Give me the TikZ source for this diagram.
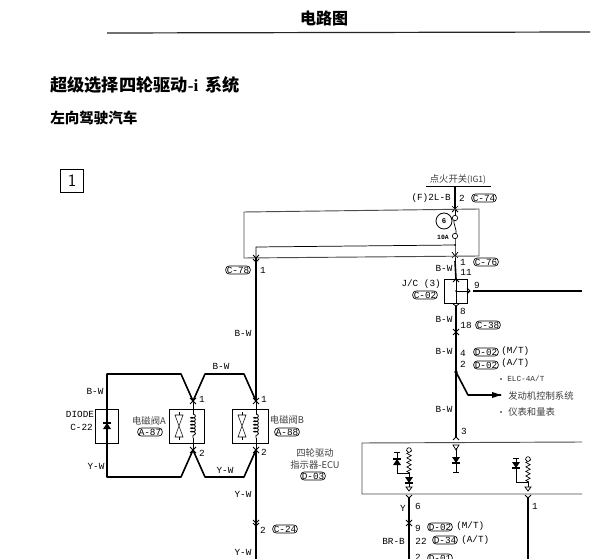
\documentclass[tikz,border=0pt]{standalone}
\usepackage{fontspec}
\setmainfont{Liberation Mono}
\newfontfamily\cjk{Noto Sans CJK SC}
\usetikzlibrary{calc}
\usetikzlibrary{decorations.pathmorphing}
\def\chev#1{\draw[thin] ($(#1)+(-3,3)$) -- (#1) -- ($(#1)+(3,3)$);}
\def\chevup#1{\draw[thin] ($(#1)+(-3,-3)$) -- (#1) -- ($(#1)+(3,-3)$);}
\def\diode#1{\fill ($(#1)+(-4,-3)$) -- ($(#1)+(4,-3)$) -- ($(#1)+(0,3)$) -- cycle;
  \draw[thick] ($(#1)+(-4,3)$) -- ($(#1)+(4,3)$);}
\def\diodeup#1{\fill ($(#1)+(-4,3)$) -- ($(#1)+(4,3)$) -- ($(#1)+(0,-3)$) -- cycle;
  \draw[thick] ($(#1)+(-4,-3)$) -- ($(#1)+(4,-3)$);}
\def\hourglass#1{\draw[thin] ($(#1)+(-4,-11)$) -- ($(#1)+(4,-11)$) -- ($(#1)+(-4,11)$) -- ($(#1)+(4,11)$) -- cycle;
  \draw[thin] ($(#1)+(0,-14)$) -- ($(#1)+(0,-11)$) ($(#1)+(0,11)$) -- ($(#1)+(0,14)$);}
\begin{document}
\begin{tikzpicture}[x=0.75pt,y=-0.75pt,
      lab/.style={inner sep=0pt,font=\fontsize{7}{8}\selectfont},
      cjklab/.style={inner sep=0pt,text=black!75,font=\cjk\fontsize{7}{8}\selectfont},
      pill/.style={draw,rounded corners=2.5pt,inner xsep=0.8pt,inner ysep=0.6pt,line width=0.5pt,font=\fontsize{7}{8}\selectfont},
      wire/.style={line width=1.2pt},
      thinwire/.style={line width=0.55pt},
      frame/.style={line width=0.7pt,black!70},
      coilwire/.style={line width=0.6pt,decorate,decoration={coil,aspect=0.5,segment length=2.6pt,amplitude=1.8pt}},
      reswire/.style={line width=0.5pt,decorate,decoration={zigzag,segment length=3.4pt,amplitude=1.6pt}},
      junc/.style={circle,draw,fill=white,inner sep=0pt,minimum size=4pt,line width=0.5pt},
      ]
      \clip (0,0) rectangle (603,559);
      \fill[white] (0,0) rectangle (603,559);

      % heading
      \node[inner sep=0pt,font=\cjk\bfseries\fontsize{12}{14}\selectfont] (Title) at (324,18) {电路图};
      \coordinate (RuleL) at (107,33);
      \coordinate (RuleR) at (590,32);
      \draw[line width=0.9pt,black!85] (RuleL) -- (RuleR);
      \node[inner sep=0pt,anchor=west,font=\cjk\bfseries\fontsize{12.9}{14}\selectfont] (Head) at (50,85) {超级选择四轮驱动{\fontspec{Liberation Serif}-i}\, 系统};
      \node[inner sep=0pt,anchor=west,font=\cjk\bfseries\fontsize{10.9}{12}\selectfont] (Sub) at (50,118) {左向驾驶汽车};
      \node[draw,line width=0.7pt,minimum width=17.5pt,minimum height=17.5pt,inner sep=0pt,font=\sffamily\fontsize{13}{14}\selectfont] (One) at (72,181) {1};

      % ignition feed
      \node[cjklab] (IG) at (458,179) {点火开关{\fontsize{6.4}{7}\selectfont(IG1)}};
      \coordinate (IGL) at (426,186);
      \coordinate (IGR) at (491,186);
      \draw[line width=0.7pt] (IGL) -- (IGR);
      \coordinate (IGM) at (455,186);
      \coordinate (FA) at (455,209);
      \coordinate (FT) at (455,218);
      \coordinate (FB) at (455,236);
      \coordinate (FC) at (455,255);
      \coordinate (FD) at (455,261);
      \draw[wire] (IGM) -- (FA);
      \draw[thinwire] (FA) -- (FT);
      \draw[thinwire] (FB) -- (FC) -- (FD);
      \draw[thinwire] (FT) .. controls (451,224) and (459,229) .. (FB);
      \chevup{FA}
      \draw[thinwire] ($(FA)+(-3,3)$) -- (FA) -- ($(FA)+(3,3)$);
      \chev{FC}
      \draw[thinwire] ($(FC)+(-3,-3)$) -- ($(FC)+(0,1)$) -- ($(FC)+(3,-3)$);
      \node[junc] (FTop) at (FT) {};
      \node[junc] (FBot) at (FB) {};
      \node[draw,circle,line width=0.6pt,minimum size=12pt,inner sep=0pt,font=\fontsize{5.5}{6}\bfseries\selectfont] (Fuse) at (444,221) {6};
      \node[lab,font=\fontsize{4.8}{5}\bfseries\selectfont] (Amp) at (443,237) {10A};
      \node[lab,anchor=east] (L2LB) at (451,198) {(F)2L-B};
      \node[lab] (P2) at (462,198) {2};
      \node[pill] (C74) at (484,198) {C-74};

      % outer loop
      \coordinate (LoopA) at (244,212);
      \coordinate (LoopB) at (479,209);
      \coordinate (LoopC) at (479,256);
      \coordinate (LoopD) at (244,258);
      \draw[frame] (LoopA) -- (LoopB) -- (LoopC) -- (LoopD) -- cycle;
      \coordinate (InnerR) at (455,245);
      \coordinate (InnerL) at (256,247);
      \coordinate (CA) at (256,258);
      \draw[thinwire] (InnerR) -- (InnerL) -- (CA);
      \fill (InnerR) circle (1);

      % left wire
      \coordinate (CB) at (256,262);
      \coordinate (WireA) at (256,401);
      \coordinate (WireB) at (256,450);
      \coordinate (WireC) at (256,559);
      \coordinate (Cross) at (256,523);
      \draw[thinwire] ($(CA)+(-3,-3)$) -- (CA) -- ($(CA)+(3,-3)$);
      \draw[thinwire] ($(CB)+(-3,-3)$) -- (CB) -- ($(CB)+(3,-3)$);
      \draw[wire] (CA) -- (WireA);
      \draw[wire] (WireB) -- (WireC);
      \draw[thinwire] ($(Cross)+(-3,-3)$) -- (Cross) -- ($(Cross)+(3,-3)$);
      \draw[thinwire] ($(Cross)+(-3,0)$) -- ($(Cross)+(0,3)$) -- ($(Cross)+(3,0)$);
      \node[pill] (C78) at (238,270) {C-78};
      \node[lab] (P1) at (263,270) {1};
      \node[lab] (BW1) at (243,333) {B-W};
      \node[lab] (YW4) at (243,494) {Y-W};
      \node[lab] (P3) at (263,530) {2};
      \node[pill] (C24) at (285,529) {C-24};
      \node[lab] (YW5) at (243,552) {Y-W};

      % valves and diode
      \coordinate (DT) at (107,374);
      \coordinate (DB) at (107,477);
      \coordinate (T1) at (181,374);
      \coordinate (T2) at (193,401);
      \coordinate (T3) at (205,374);
      \coordinate (T4) at (244,374);
      \coordinate (B1) at (181,477);
      \coordinate (B2) at (193,450);
      \coordinate (B3) at (205,477);
      \coordinate (B4) at (244,477);
      \draw[wire,line join=round] (T2) -- (T1) -- (DT) -- (DB) -- (B1) -- (B2);
      \draw[wire,line join=round] (T2) -- (T3) -- (T4) -- (WireA);
      \draw[wire,line join=round] (B2) -- (B3) -- (B4) -- (WireB);
      \node[draw,line width=0.6pt,minimum width=17.3pt,minimum height=25.5pt,inner sep=0pt] (DBox) at (107,426) {};
      \node[draw,line width=0.6pt,minimum width=26.3pt,minimum height=25.5pt,inner sep=0pt] (ABox) at (186.5,426) {};
      \node[draw,line width=0.6pt,minimum width=27pt,minimum height=25.5pt,inner sep=0pt] (BBox) at (250,426) {};
      \coordinate (DC) at (107,426);
      \diodeup{DC}
      \draw[thinwire] (T2) -- (B2);
      \draw[thinwire] (WireA) -- (WireB);
      \coordinate (AH) at (179,426);
      \coordinate (BH) at (242,426);
      \hourglass{AH}
      \hourglass{BH}
      \coordinate (ACa) at (193,414);
      \coordinate (ACb) at (193,438);
      \coordinate (BCa) at (256,414);
      \coordinate (BCb) at (256,438);
      \fill[white] (190,414) rectangle (196,438);
      \fill[white] (253,414) rectangle (259,438);
      \draw[coilwire] (ACa) -- (ACb);
      \draw[coilwire] (BCa) -- (BCb);
      \foreach \p in {T2,B2,WireA,WireB} {
        \draw[thinwire] ($(\p)+(-3,-3)$) -- ($(\p)+(3,3)$);
        \draw[thinwire] ($(\p)+(3,-3)$) -- ($(\p)+(-3,3)$);
      }
      \node[lab] (BW2) at (95,391) {B-W};
      \node[lab] (YW2) at (96,466) {Y-W};
      \node[lab] (BW3) at (221,366) {B-W};
      \node[lab] (YW3) at (225,470) {Y-W};
      \node[lab] (Dio) at (80,414) {DIODE};
      \node[lab,anchor=east] (C22) at (93,427) {C-22};
      \node[lab] (N1) at (202,399) {1};
      \node[lab] (N2) at (202,453) {2};
      \node[lab] (N3) at (264,399) {1};
      \node[lab] (N4) at (264,452) {2};
      \node[cjklab] (VA) at (149,421) {电磁阀A};
      \node[pill] (A87) at (150,432) {A-87};
      \node[cjklab] (VB) at (287,420) {电磁阀B};
      \node[pill] (A88) at (287,432) {A-88};
      \node[cjklab] (ECa) at (315,453) {四轮驱动};
      \node[cjklab] (ECb) at (315,465) {指示器-ECU};
      \node[pill] (D03) at (313,476) {D-03};

      % junction block
      \node[draw,line width=0.7pt,minimum width=17.8pt,minimum height=18pt,inner sep=0pt] (JC) at (456,291) {};
      \coordinate (JA) at (456,279);
      \coordinate (JB) at (456,303);
      \coordinate (JC1) at (456,291);
      \coordinate (JC2) at (470,291);
      \coordinate (JC3) at (473,291);
      \coordinate (JOut) at (582,291);
      \draw[wire] (FD) -- (JA);
      \draw[thinwire] (JA) -- (JB);
      \draw[thinwire] (JC1) -- (JC2);
      \draw[thinwire] ($(JC2)+(-3,-3)$) -- (JC2) -- ($(JC2)+(-3,3)$);
      \draw[wire] (JC3) -- (JOut);
      \fill (JC1) circle (1);
      \draw[thinwire] ($(JA)+(-3,3)$) -- (JA) -- ($(JA)+(3,3)$);
      \draw[thinwire] ($(JB)+(-3,1)$) -- ($(JB)+(0,3)$) -- ($(JB)+(3,1)$);
      \node[lab] (BW5) at (444,268) {B-W};
      \node[lab] (N5) at (463,262) {1};
      \node[pill] (C76) at (486,262) {C-76};
      \node[lab] (N6) at (466,272) {11};
      \node[lab] (N7) at (477,285) {9};
      \node[lab,anchor=east] (JCl) at (441,284) {J/C (3)};
      \node[pill] (C02) at (425,295) {C-02};
      \node[lab] (N8) at (463,311) {8};
      \node[lab] (BW6) at (444,319) {B-W};
      \node[lab] (N9) at (466,325) {18};
      \node[pill] (C38) at (488,325) {C-38};
      \node[lab] (BW7) at (444,351) {B-W};
      \node[lab] (N10) at (463,353) {4};
      \node[pill] (D02a) at (486,352) {D-02};
      \node[lab,anchor=west] (MT1) at (501,351) {(M/T)};
      \node[lab] (N11) at (463,364) {2};
      \node[pill] (D02b) at (486,365) {D-02};
      \node[lab,anchor=west] (AT1) at (501,363) {(A/T)};
      \node[lab] (BW8) at (444,409) {B-W};
      \node[lab] (N12) at (464,431) {3};

      % main wire and branch
      \coordinate (MA) at (456,306);
      \coordinate (MX) at (456,332);
      \coordinate (MJ) at (456,372);
      \coordinate (MB) at (456,437);
      \coordinate (BrA) at (468,395);
      \coordinate (BrB) at (501,395);
      \draw[wire] (MA) -- (MB);
      \draw[thinwire] ($(MX)+(-3,-3)$) -- ($(MX)+(3,3)$) ($(MX)+(3,-3)$) -- ($(MX)+(-3,3)$);
      \draw[thinwire] ($(MB)+(-3,3)$) -- (MB) -- ($(MB)+(3,3)$);
      \fill (MJ) circle (1.8);
      \draw[wire,line join=round] (MJ) -- (BrA) -- (BrB);
      \fill (BrB) -- ++(-9,-3) -- ++(0,6) -- cycle;
      \node[lab,anchor=west,font=\rmfamily\fontsize{5.8}{6}\selectfont,text=black!80] (Ela) at (507,379) {ELC-4A/T};
      \node[cjklab,anchor=west] (Elb) at (508,396) {发动机控制系统};
      \node[cjklab,anchor=west] (Elc) at (508,412) {仪表和量表};
      \fill (501,379) circle (0.8);
      \fill (501,412) circle (0.8);

      % lower box
      \coordinate (BxA) at (582,442);
      \coordinate (BxB) at (362,443);
      \coordinate (BxC) at (362,494);
      \coordinate (BxD) at (582,494);
      \draw[frame] (BxA) -- (BxB) -- (BxC) -- (BxD);

      % centre diode
      \coordinate (CdA) at (456,448);
      \coordinate (CdB) at (456,460);
      \coordinate (CdC) at (456,472);
      \draw[thinwire] (CdA) -- (CdC);
      \draw[thinwire] ($(CdA)+(-3,-3)$) -- ($(CdA)+(3,-3)$) -- ($(CdA)+(0,2)$) -- cycle;
      \draw[thinwire] ($(CdC)+(-3,0)$) -- ($(CdC)+(3,0)$);
      \diode{CdB}

      % left circuit
      \coordinate (LA) at (409,450);
      \coordinate (LB) at (409,473);
      \coordinate (LC) at (409,480);
      \coordinate (LD) at (409,488);
      \coordinate (LE) at (397,462);
      \coordinate (LF) at (397,452);
      \coordinate (LG) at (397,473);
      \draw[reswire] (LA) -- (LB);
      \draw[thinwire] (LB) -- (LD);
      \draw[thinwire] (LF) -- (LG) -- (LB);
      \draw[thinwire] ($(LF)+(-3,0)$) -- ($(LF)+(3,0)$);
      \draw[thinwire] ($(LA)+(-3,0)$) -- ($(LA)+(3,0)$);
      \node[junc,minimum size=3.5pt] (LAo) at (LA) {};
      \fill (LB) circle (1);
      \diode{LC}
      \diodeup{LE}
      \draw[thinwire,fill=white] ($(LD)+(-3,-1)$) -- ($(LD)+(3,-1)$) -- ($(LD)+(0,3)$) -- cycle;

      % right circuit
      \coordinate (RA) at (528,459);
      \coordinate (RB) at (528,482);
      \coordinate (RD) at (528,488);
      \coordinate (RE) at (516,465);
      \coordinate (RF) at (516,458);
      \coordinate (RG) at (516,482);
      \draw[reswire] (RA) -- (RB);
      \draw[thinwire] (RB) -- (RD);
      \draw[thinwire] (RF) -- (RG) -- (RB);
      \draw[thinwire] ($(RF)+(-3,0)$) -- ($(RF)+(3,0)$);
      \draw[thinwire] ($(RA)+(-3,0)$) -- ($(RA)+(3,0)$);
      \node[junc,minimum size=3.5pt] (RAo) at (RA) {};
      \fill (RB) circle (1);
      \diode{RE}
      \draw[thinwire,fill=white] ($(RD)+(-3,-1)$) -- ($(RD)+(3,-1)$) -- ($(RD)+(0,3)$) -- cycle;

      % wires below the box
      \coordinate (YA) at (409,498);
      \coordinate (YX) at (409,523);
      \coordinate (YB) at (409,559);
      \coordinate (ZA) at (528,498);
      \coordinate (ZB) at (528,559);
      \draw[wire] (YA) -- (YB);
      \draw[line width=0.8pt] (ZA) -- (ZB);
      \draw[thinwire] ($(YA)+(-3,-3)$) -- (YA) -- ($(YA)+(3,-3)$);
      \draw[thinwire] ($(ZA)+(-3,-3)$) -- (ZA) -- ($(ZA)+(3,-3)$);
      \draw[thinwire] ($(YX)+(-3,-3)$) -- ($(YX)+(3,3)$) ($(YX)+(3,-3)$) -- ($(YX)+(-3,3)$);
      \node[lab] (Ya) at (403,508) {Y};
      \node[lab] (N13) at (418,506) {6};
      \node[lab] (N14) at (535,506) {1};
      \node[lab] (N15) at (418,528) {9};
      \node[pill] (D02c) at (440,527) {D-02};
      \node[lab,anchor=west] (MT2) at (456,526) {(M/T)};
      \node[lab,anchor=east] (BRB) at (405,541) {BR-B};
      \node[lab] (N16) at (421,541) {22};
      \node[pill] (D34) at (445,540) {D-34};
      \node[lab,anchor=west] (AT2) at (461,540) {(A/T)};
      \node[lab] (N17) at (418,557) {2};
      \node[pill] (D01) at (440,558) {D-01};
    \end{tikzpicture}
\end{document}
